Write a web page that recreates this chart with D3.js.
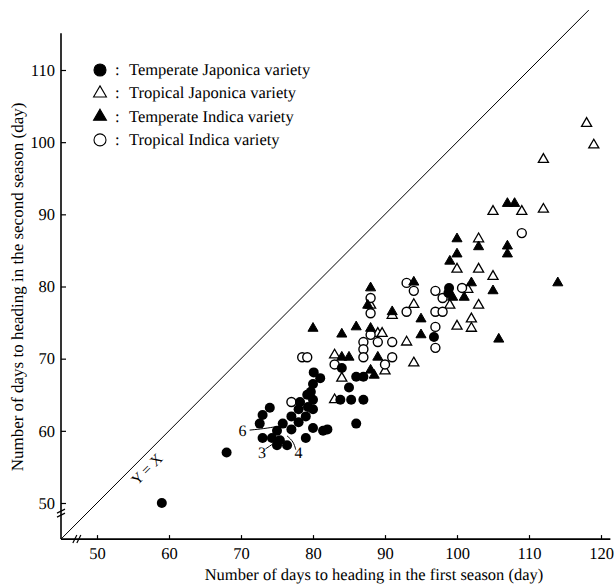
<!DOCTYPE html>
<html>
<head>
<meta charset="utf-8">
<script src="https://cdn.jsdelivr.net/npm/d3@7"></script>
<style>
  body { margin: 0; background: #fff; }
  svg { display: block; font-family: "Liberation Serif", "DejaVu Serif", serif; }
  text { fill: #000; text-rendering: geometricPrecision; }
</style>
</head>
<body>
<div id="chart"></div>
<script>
// -------------------------------------------------------------------------
// Data  [first season, second season]

const temperateJaponica = [
  [59, 50], [68, 57], [72.6, 61], [73, 59], [73, 62.2], [74, 63.2], [74.3, 59],
  [75, 60], [75, 58], [75.4, 58.7], [76.4, 58], [75.8, 61], [77, 62], [77, 60.2],
  [78, 61.2], [78, 63], [78.2, 64], [79, 59], [79, 62], [79.3, 63.3], [79.2, 65],
  [79.7, 65.4], [80, 63], [80, 64.3], [80, 60.4], [80, 66.5], [80.1, 68.1],
  [81, 67.3], [81.4, 60], [82, 60.2], [83.8, 64.3], [85.3, 64.3], [87, 64.3],
  [86, 61], [84, 68.7], [85, 66], [86, 67.5], [87, 67.5], [96.8, 73],
  [98.9, 79.8], [98.8, 79.1]
];

const tropicalJaponica = [
  [83, 70.5], [84, 67.3], [83, 64.3], [88, 77.4], [91, 76], [89, 73.5],
  [89.6, 73.5], [93, 72.3], [90, 68.3], [94, 69.4], [94, 77.5], [99, 77.4],
  [103, 77.4], [102, 75.5], [100, 74.5], [102, 74.2], [101.5, 79.6], [100, 82.4],
  [103, 82.4], [105, 81.4], [103, 86.6], [105, 90.4], [109, 90.4], [112, 90.7],
  [112, 97.6], [118, 102.6], [119, 99.6]
];

const temperateIndica = [
  [107, 91.5], [108, 91.5], [107, 85.6], [107, 84.5], [105, 79.4], [114, 80.5],
  [100, 86.6], [103, 85.5], [100, 84.5], [99, 83.5], [102, 80.5], [99.4, 78.5],
  [101, 78.5], [95, 75.5], [95, 73.3], [105.8, 72.7], [94, 80.6], [88, 79.8],
  [87.6, 77.4], [91, 76.5], [80, 74.2], [84, 73.4], [86, 74.4], [88, 74.2],
  [84, 70.2], [85, 70.2], [89, 70.2], [88, 68.4], [88.5, 67.7]
];

const tropicalIndica = [
  [77, 64], [78.5, 70.2], [79.2, 70.2], [83, 69.2], [88, 78.4], [88, 76.3],
  [93, 80.5], [93, 76.5], [87, 72.3], [88, 73.3], [89, 72.3], [91, 72.3],
  [87, 71.3], [87, 70.2], [91, 70.2], [90, 69.2], [94, 79.4], [97, 79.4],
  [98, 78.4], [100.7, 79.8], [97, 76.5], [98, 76.5], [97, 74.4], [97, 71.5],
  [109, 87.4]
];

const legendLabels = [
  'Temperate Japonica variety',
  'Tropical Japonica variety',
  'Temperate Indica variety',
  'Tropical Indica variety'
];

const xTicks = [50, 60, 70, 80, 90, 100, 110, 120];
const yTicks = [50, 60, 70, 80, 90, 100, 110];

// -------------------------------------------------------------------------
// Layout

let width = 616;
let height = 585;

let x = d3.scaleLinear().domain([50, 120]).range([97, 601]);
let y = d3.scaleLinear().domain([50, 110]).range([503, 70]);

let svg = d3.select('#chart')
  .append('svg')
  .attr('width', width)
  .attr('height', height);

// -------------------------------------------------------------------------
// Axes

let xAxis = svg.append('g')
  .attr('transform', `translate(0,${y(45)})`)
  .call(d3.axisBottom(x).tickValues(xTicks).tickSizeInner(-4).tickSizeOuter(0).tickPadding(8));
xAxis.select('.domain').remove();
xAxis.append('line')
  .attr('x1', x(45)).attr('x2', x(121.3))
  .attr('stroke', '#000').attr('stroke-width', 1.6);

let yAxis = svg.append('g')
  .attr('transform', `translate(${x(45)},0)`)
  .call(d3.axisLeft(y).tickValues(yTicks).tickSizeInner(-5).tickSizeOuter(0).tickPadding(6));
yAxis.select('.domain').remove();
yAxis.append('line')
  .attr('y1', y(45)).attr('y2', y(115.1))
  .attr('stroke', '#000').attr('stroke-width', 1.6);

svg.selectAll('.tick line').attr('stroke', '#000').attr('stroke-width', 1.2);
svg.selectAll('.tick text')
  .attr('fill', '#000')
  .style('font-family', '"Liberation Serif", serif')
  .style('font-size', '16.5px');

// axis breaks
svg.append('g')
  .selectAll('line')
  .data([-2, 2])
  .enter()
  .append('line')
  .attr('x1', d => x(47.2) + d - 2).attr('y1', y(45) + 4)
  .attr('x2', d => x(47.2) + d + 2).attr('y2', y(45) - 4)
  .attr('stroke', '#000').attr('stroke-width', 1.2);

svg.append('g')
  .selectAll('line')
  .data([-2, 2])
  .enter()
  .append('line')
  .attr('x1', x(45) - 4).attr('y1', d => y(48.6) + d + 2)
  .attr('x2', x(45) + 4).attr('y2', d => y(48.6) + d - 2)
  .attr('stroke', '#000').attr('stroke-width', 1.2);

// axis titles
svg.append('text')
  .attr('x', 374).attr('y', 580)
  .attr('text-anchor', 'middle')
  .style('font-size', '16.5px')
  .text('Number of days to heading in the first season (day)');

svg.append('text')
  .attr('transform', 'translate(23,287)rotate(-90)')
  .attr('text-anchor', 'middle')
  .style('font-size', '17px')
  .text('Number of days to heading in the second season (day)');

// -------------------------------------------------------------------------
// Y = X line

svg.append('line')
  .attr('x1', x(45)).attr('y1', y(45))
  .attr('x2', x(118.3)).attr('y2', y(118.3))
  .attr('stroke', '#000').attr('stroke-width', 1);

svg.append('text')
  .attr('transform', `translate(${x(57.4)},${y(54.2)})rotate(-45)`)
  .attr('text-anchor', 'middle')
  .style('font-size', '15px')
  .text('Y = X');

// -------------------------------------------------------------------------
// Points

let tri = d3.symbol().type(d3.symbolTriangle).size(44);

svg.append('g')
  .selectAll('path')
  .data(tropicalJaponica)
  .enter()
  .append('path')
  .attr('d', tri)
  .attr('transform', d => `translate(${x(d[0])},${y(d[1])})`)
  .attr('fill', '#fff').attr('stroke', '#000').attr('stroke-width', 1.3);

svg.append('g')
  .selectAll('circle')
  .data(tropicalIndica)
  .enter()
  .append('circle')
  .attr('cx', d => x(d[0])).attr('cy', d => y(d[1]))
  .attr('r', 4.5)
  .attr('fill', '#fff').attr('stroke', '#000').attr('stroke-width', 1.4);

svg.append('g')
  .selectAll('path')
  .data(temperateIndica)
  .enter()
  .append('path')
  .attr('d', tri)
  .attr('transform', d => `translate(${x(d[0])},${y(d[1])})`)
  .attr('fill', '#000').attr('stroke', '#000').attr('stroke-width', 1);

svg.append('g')
  .selectAll('circle')
  .data(temperateJaponica)
  .enter()
  .append('circle')
  .attr('cx', d => x(d[0])).attr('cy', d => y(d[1]))
  .attr('r', 5)
  .attr('fill', '#000');

// overlap counts
let notes = [
  { label: '6', tx: 70.2, ty: 59.3, path: [[71.2, 60.1], [73.2, 60.3], [75.0, 60.6]] },
  { label: '3', tx: 72.9, ty: 56.2, path: [[73.4, 57.5], [74.5, 58.2], [75.2, 59.0]] },
  { label: '4', tx: 78.0, ty: 56.2, path: [[77.6, 57.4], [77.3, 58.5], [76.4, 59.3]] }
];
let curve = d3.line().x(d => x(d[0])).y(d => y(d[1])).curve(d3.curveBasis);

svg.append('g')
  .selectAll('path')
  .data(notes)
  .enter()
  .append('path')
  .attr('d', d => curve(d.path))
  .attr('fill', 'none').attr('stroke', '#000').attr('stroke-width', 1);

svg.append('g')
  .selectAll('text')
  .data(notes)
  .enter()
  .append('text')
  .attr('x', d => x(d.tx)).attr('y', d => y(d.ty))
  .attr('text-anchor', 'middle')
  .style('font-size', '16px')
  .text(d => d.label);

// -------------------------------------------------------------------------
// Legend

let legend = svg.append('g')
  .selectAll('g')
  .data(legendLabels)
  .enter()
  .append('g')
  .attr('transform', (d, i) => `translate(100,${70 + i * 23.3})`);

let bigTri = d3.symbol().type(d3.symbolTriangle).size(72);

legend.each(function(d, i) {
  let g = d3.select(this);
  if (i === 0 || i === 3) {
    g.append('circle').attr('r', 6)
      .attr('fill', i === 0 ? '#000' : '#fff')
      .attr('stroke', '#000').attr('stroke-width', 1.1);
  } else {
    g.append('path').attr('d', bigTri)
      .attr('fill', i === 2 ? '#000' : '#fff')
      .attr('stroke', '#000').attr('stroke-width', 1.1);
  }
});

legend.append('text')
  .attr('x', 15).attr('y', 5)
  .style('font-size', '16.5px')
  .text(':');

legend.append('text')
  .attr('x', 29).attr('y', 5)
  .style('font-size', '16.5px')
  .text(d => d);
</script>
</body>
</html>
